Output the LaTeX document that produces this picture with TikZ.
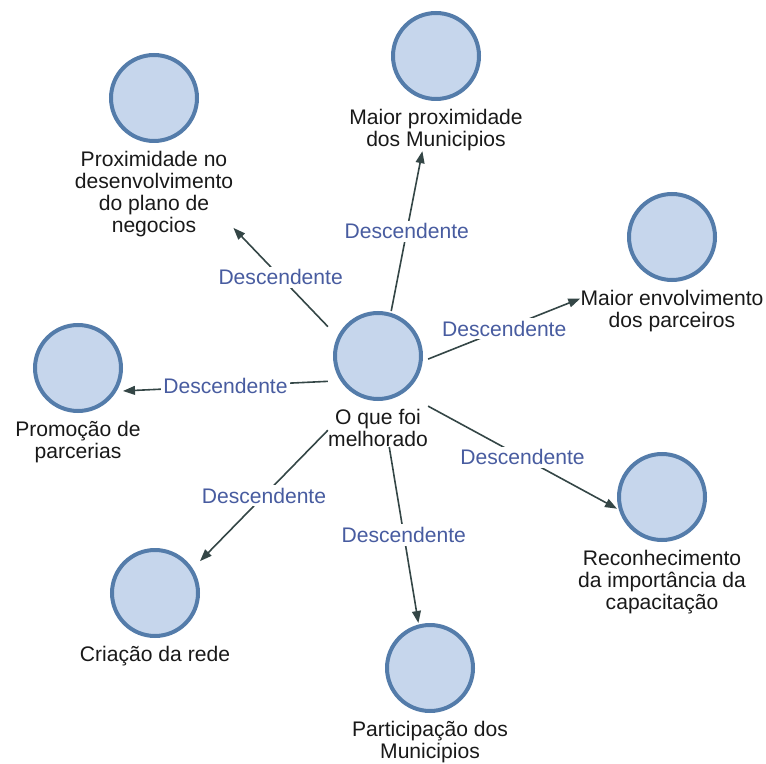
\documentclass[tikz,border=0pt]{standalone}
\usepackage{fontspec}
\setmainfont{Liberation Sans}
\usetikzlibrary{positioning,fit,arrows.meta}
\definecolor{anel}{RGB}{84,124,170}
\definecolor{miolo}{RGB}{198,214,236}
\definecolor{seta}{RGB}{52,70,70}
\definecolor{rotulo}{RGB}{72,92,160}
\definecolor{texto}{RGB}{25,25,25}
\tikzset{
  bola/.style={circle,draw=anel,fill=miolo,line width=0.1cm,minimum size=2.15cm,inner sep=0},
  nome/.style={align=center,inner sep=0,text=texto,font=\fontsize{15pt}{15.6pt}\selectfont},
  caixa/.style={inner sep=0,outer sep=0},
  liga/.style={draw=seta,line width=0.04cm,-{Triangle[length=0.3cm,width=0.22cm]}},
  desc/.style={fill=white,inner sep=2pt,text=rotulo,font=\fontsize{15pt}{15.6pt}\selectfont}
}
\begin{document}
\begin{tikzpicture}
        \useasboundingbox (0,0) rectangle (19.15,19.075);
        % centro
        \node[bola] (cM) at (9.45,10.175) {};
        \node[nome,below=0.2cm of cM] (tM) {O que foi\\melhorado};
        \node[caixa,fit=(cM)(tM)] (M) {};
        % em volta
        \node[bola] (cA) at (3.85,16.625) {};
        \node[nome,below=0.2cm of cA] (tA) {Proximidade no\\desenvolvimento\\do plano de\\negocios};
        \node[caixa,fit=(cA)(tA)] (A) {};
        \node[bola] (cB) at (10.9,17.675) {};
        \node[nome,below=0.2cm of cB] (tB) {Maior proximidade\\dos Municipios};
        \node[caixa,fit=(cB)(tB)] (B) {};
        \node[bola] (cC) at (16.8,13.15) {};
        \node[nome,below=0.2cm of cC] (tC) {Maior envolvimento\\dos parceiros};
        \node[caixa,fit=(cC)(tC)] (C) {};
        \node[bola] (cP) at (1.95,9.875) {};
        \node[nome,below=0.2cm of cP] (tP) {Promoção de\\parcerias};
        \node[caixa,fit=(cP)(tP.south)] (P) {};
        \node[bola] (cR) at (16.55,6.65) {};
        \node[nome,below=0.2cm of cR] (tR) {Reconhecimento\\da importância da\\capacitação};
        \node[caixa,fit=(cR)(tR.south)] (R) {};
        \node[bola] (cD) at (3.875,4.25) {};
        \node[nome,below=0.2cm of cD] (tD) {Criação da rede};
        \node[caixa,fit=(cD)(tD.south)] (D) {};
        \node[bola] (cF) at (10.75,2.375) {};
        \node[nome,below=0.2cm of cF] (tF) {Participação dos\\Municipios};
        \node[caixa,fit=(cF)(tF.south)] (F) {};
        % ligacoes
        \draw[liga] (M) -- node[desc]{Descendente} (A);
        \draw[liga] (M) -- node[desc]{Descendente} (B);
        \draw[liga] (M) -- node[desc]{Descendente} (C);
        \draw[liga] (M) -- node[desc]{Descendente} (P);
        \draw[liga] (M) -- node[desc]{Descendente} (R);
        \draw[liga] (M) -- node[desc]{Descendente} (D);
        \draw[liga] (M) -- node[desc]{Descendente} (F);
\end{tikzpicture}
\end{document}
